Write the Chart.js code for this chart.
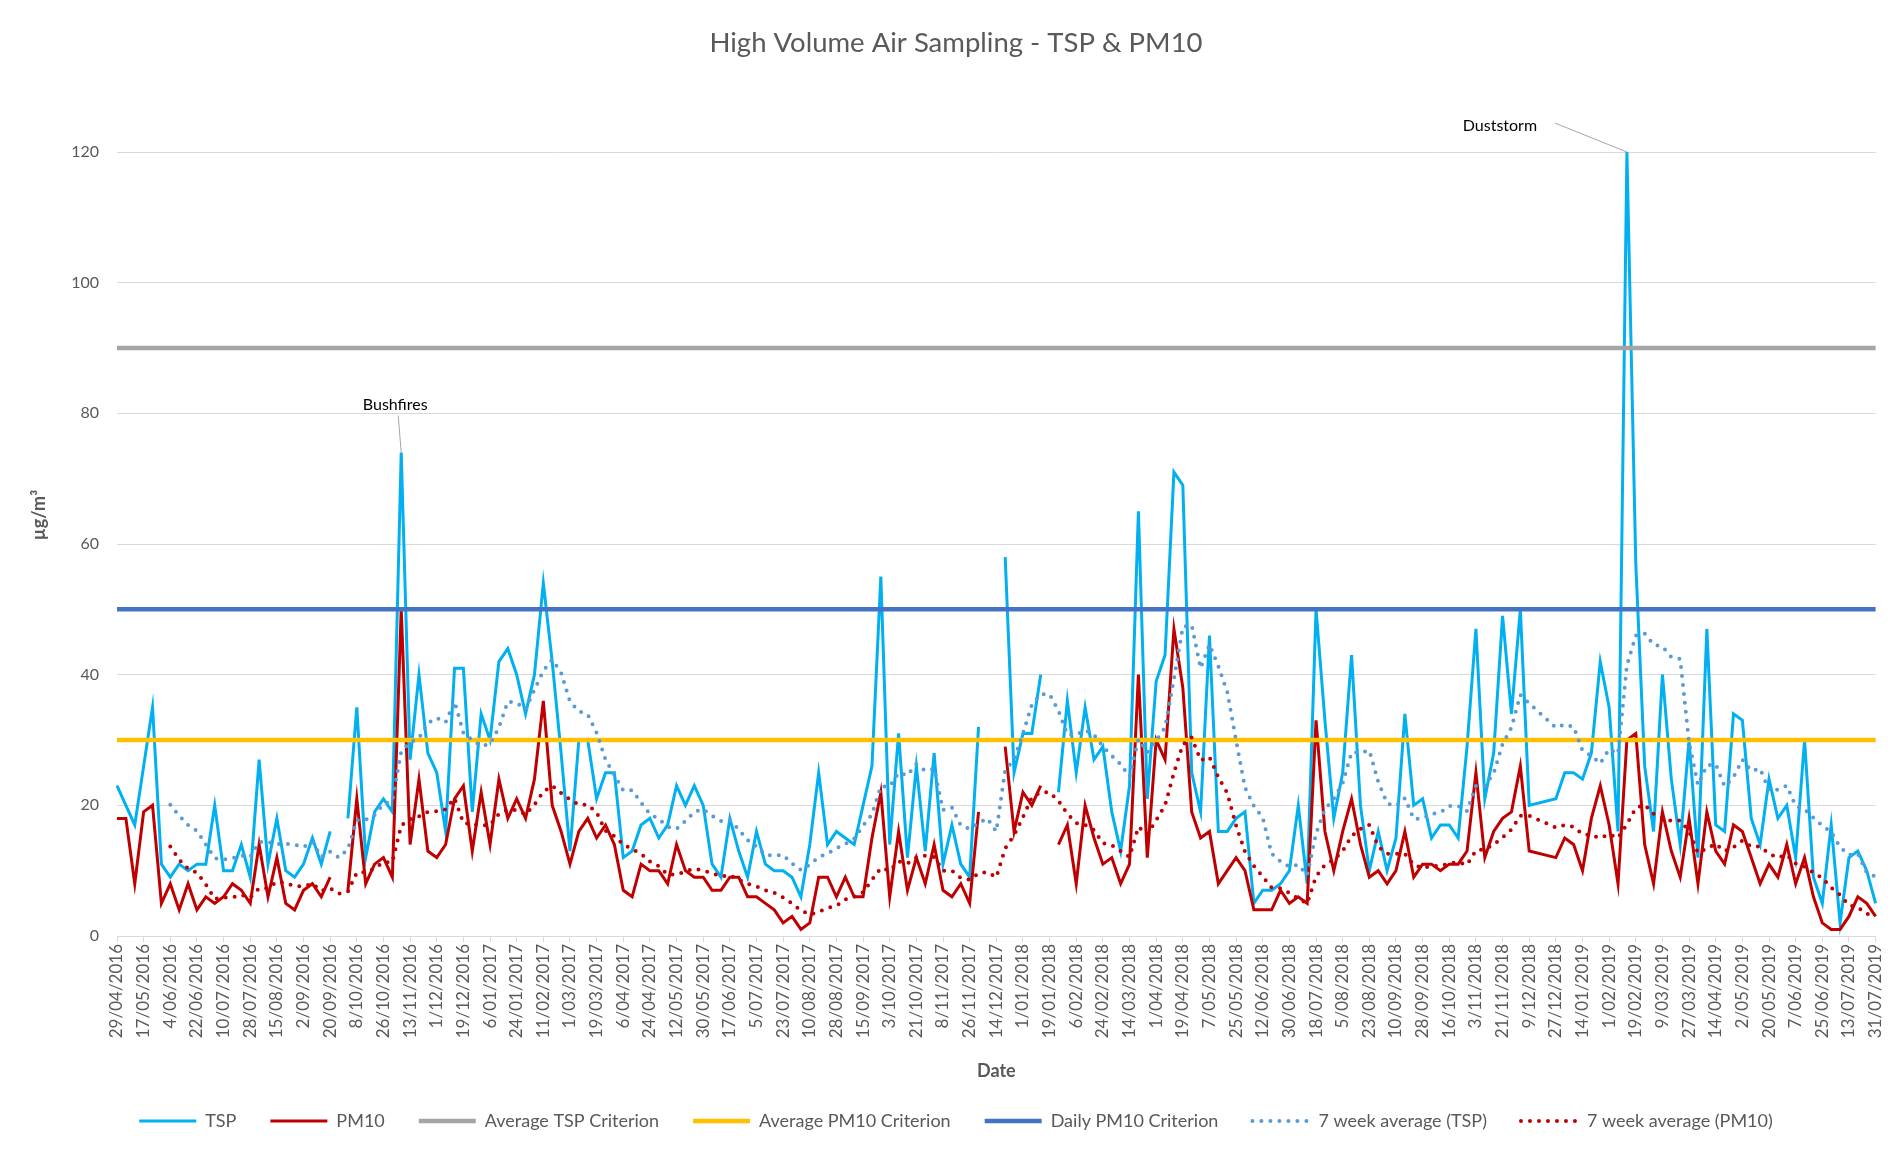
<!DOCTYPE html>
<html><head><meta charset="utf-8">
<script src="https://cdn.jsdelivr.net/npm/chart.js@4.4.1/dist/chart.umd.min.js"></script>
<style>html,body{margin:0;padding:0;background:#fff;}canvas{display:block;}</style>
</head><body>
<canvas id="c" width="1898" height="1151"></canvas>
<script>
// ---- categories (sampling dates, every 6 days) ----
const dates = [
'29/04/2016','5/05/2016','11/05/2016','17/05/2016','23/05/2016','29/05/2016','4/06/2016','10/06/2016','16/06/2016','22/06/2016',
'28/06/2016','4/07/2016','10/07/2016','16/07/2016','22/07/2016','28/07/2016','3/08/2016','9/08/2016','15/08/2016','21/08/2016',
'27/08/2016','2/09/2016','8/09/2016','14/09/2016','20/09/2016','26/09/2016','2/10/2016','8/10/2016','14/10/2016','20/10/2016',
'26/10/2016','1/11/2016','7/11/2016','13/11/2016','19/11/2016','25/11/2016','1/12/2016','7/12/2016','13/12/2016','19/12/2016',
'25/12/2016','31/12/2016','6/01/2017','12/01/2017','18/01/2017','24/01/2017','30/01/2017','5/02/2017','11/02/2017','17/02/2017',
'23/02/2017','1/03/2017','7/03/2017','13/03/2017','19/03/2017','25/03/2017','31/03/2017','6/04/2017','12/04/2017','18/04/2017',
'24/04/2017','30/04/2017','6/05/2017','12/05/2017','18/05/2017','24/05/2017','30/05/2017','5/06/2017','11/06/2017','17/06/2017',
'23/06/2017','29/06/2017','5/07/2017','11/07/2017','17/07/2017','23/07/2017','29/07/2017','4/08/2017','10/08/2017','16/08/2017',
'22/08/2017','28/08/2017','3/09/2017','9/09/2017','15/09/2017','21/09/2017','27/09/2017','3/10/2017','9/10/2017','15/10/2017',
'21/10/2017','27/10/2017','2/11/2017','8/11/2017','14/11/2017','20/11/2017','26/11/2017','2/12/2017','8/12/2017','14/12/2017',
'20/12/2017','26/12/2017','1/01/2018','7/01/2018','13/01/2018','19/01/2018','25/01/2018','31/01/2018','6/02/2018','12/02/2018',
'18/02/2018','24/02/2018','2/03/2018','8/03/2018','14/03/2018','20/03/2018','26/03/2018','1/04/2018','7/04/2018','13/04/2018',
'19/04/2018','25/04/2018','1/05/2018','7/05/2018','13/05/2018','19/05/2018','25/05/2018','31/05/2018','6/06/2018','12/06/2018',
'18/06/2018','24/06/2018','30/06/2018','6/07/2018','12/07/2018','18/07/2018','24/07/2018','30/07/2018','5/08/2018','11/08/2018',
'17/08/2018','23/08/2018','29/08/2018','4/09/2018','10/09/2018','16/09/2018','22/09/2018','28/09/2018','4/10/2018','10/10/2018',
'16/10/2018','22/10/2018','28/10/2018','3/11/2018','9/11/2018','15/11/2018','21/11/2018','27/11/2018','3/12/2018','9/12/2018',
'15/12/2018','21/12/2018','27/12/2018','2/01/2019','8/01/2019','14/01/2019','20/01/2019','26/01/2019','1/02/2019','7/02/2019',
'13/02/2019','19/02/2019','25/02/2019','3/03/2019','9/03/2019','15/03/2019','21/03/2019','27/03/2019','2/04/2019','8/04/2019',
'14/04/2019','20/04/2019','26/04/2019','2/05/2019','8/05/2019','14/05/2019','20/05/2019','26/05/2019','1/06/2019','7/06/2019',
'13/06/2019','19/06/2019','25/06/2019','1/07/2019','7/07/2019','13/07/2019','19/07/2019','25/07/2019','31/07/2019'];

// dates with no sample row at all (line runs straight across them)
const notSampled = ['15/12/2018','21/12/2018'];

// ---- series values (µg/m³), null = blank result ----
const tsp = [
23,20,17,26,35,11,9,11,10,11, 11,20,10,10,14,9,27,11,18,10,
9,11,15,11,16,null,18,35,12,19, 21,19,74,27,40,28,25,16,41,41,
19,34,30,42,44,40,34,40,54,42, 28,13,30,30,21,25,25,12,13,17,
18,15,17,23,20,23,20,11,9,18, 13,9,16,11,10,10,9,6,14,25,
14,16,15,14,20,26,55,14,31,12, 26,13,28,11,17,11,9,32,null,null,
58,25,31,31,40,null,22,36,25,35, 27,29,19,13,23,65,21,39,43,71,
69,25,19,46,16,16,18,19,5,7, 7,8,10,20,8,50,33,18,25,43,
20,10,16,10,15,34,20,21,15,17, 17,15,29,47,21,28,49,34,50,20,
null,null,21,25,25,24,28,42,35,16, 120,57,26,16,40,24,14,30,12,47,
17,16,34,33,18,14,24,18,20,12, 30,9,5,17,2,12,13,10,5];

const pm10 = [
18,18,8,19,20,5,8,4,8,4, 6,5,6,8,7,5,14,6,12,5,
4,7,8,6,9,null,7,21,8,11, 12,9,50,14,24,13,12,14,21,23,
13,22,14,24,18,21,18,24,36,20, 16,11,16,18,15,17,14,7,6,11,
10,10,8,14,10,9,9,7,7,9, 9,6,6,5,4,2,3,1,2,9,
9,6,9,6,6,15,22,6,16,7, 12,8,14,7,6,8,5,19,null,null,
29,16,22,20,23,null,14,17,8,20, 15,11,12,8,11,40,12,30,27,47,
38,19,15,16,8,10,12,10,4,4, 4,7,5,6,5,33,16,10,16,21,
14,9,10,8,10,16,9,11,11,10, 11,11,13,25,12,16,18,19,26,13,
null,null,12,15,14,10,18,23,17,8, 30,31,14,8,19,13,9,18,8,19,
13,11,17,16,12,8,11,9,14,8, 12,6,2,1,1,3,6,5,3];

// 7 week average trend lines
const tspAvg = [
null,null,null,null,null,null,20.1,18.4,17.0,16.1, 14.0,11.9,11.7,11.9,12.3,12.1,14.4,14.4,14.1,14.1,
14.0,13.6,14.4,12.1,12.9,12.0,13.3,17.7,17.8,18.5, 20.2,20.7,28.3,29.6,30.3,32.6,33.4,32.7,35.9,31.1,
30.0,29.1,29.4,31.9,35.9,35.7,34.7,37.7,40.6,42.3, 40.3,35.9,34.4,33.9,31.1,27.0,24.6,22.3,22.3,20.4,
18.7,17.9,16.7,16.4,17.6,19.0,19.4,18.4,17.6,17.7, 16.3,14.7,13.7,12.4,12.3,12.4,11.1,10.1,10.9,12.1,
12.6,13.4,14.1,14.9,16.9,18.6,22.9,22.9,25.0,24.6, 26.3,25.3,25.6,19.3,19.7,16.9,16.4,17.3,18.0,16.0,
25.4,27.0,31.0,35.4,37.0,37.0,34.5,30.8,30.8,31.5, 30.8,29.0,27.6,26.3,24.4,30.1,28.1,29.9,31.9,39.3,
47.3,47.6,41.0,44.6,41.3,37.4,29.9,22.7,19.9,18.1, 12.6,11.4,10.6,10.9,9.3,15.7,19.4,21.0,23.4,28.1,
28.1,28.4,23.6,20.3,19.9,21.1,17.9,18.0,18.7,18.9, 19.9,19.9,19.1,23.0,23.0,24.9,29.4,31.9,36.9,35.6,
null,null,31.9,32.4,32.0,28.4,27.6,26.4,28.6,27.9, 41.4,46.0,46.3,44.6,44.3,42.7,42.4,29.6,23.1,26.1,
26.3,22.9,24.3,27.0,25.3,25.6,22.3,22.4,23.0,19.9, 19.4,18.1,16.9,15.9,13.6,12.4,12.6,9.7,9.1];

const pm10Avg = [
null,null,null,null,null,null,13.7,11.7,10.3,9.7, 7.9,5.7,5.9,5.9,6.3,5.9,7.3,7.3,8.3,8.1,
7.6,7.6,8.0,6.9,7.3,6.5,6.8,9.7,9.8,10.3, 11.3,11.3,16.9,17.9,18.3,19.0,19.1,19.4,21.1,17.3,
17.1,16.9,17.0,18.7,19.3,19.3,18.6,20.1,22.1,23.0, 21.9,20.9,20.1,20.1,18.9,16.1,15.3,14.0,13.3,12.6,
11.4,10.7,9.4,9.4,9.9,10.3,10.0,9.6,9.1,9.3, 8.6,8.0,7.6,7.0,6.6,5.9,5.0,3.9,3.3,3.7,
4.3,4.6,5.6,6.0,6.7,8.6,10.4,10.0,11.4,11.1, 12.0,12.3,12.1,10.0,10.0,8.9,8.6,9.6,9.8,9.0,
13.4,15.4,18.2,21.2,22.0,22.0,20.7,18.7,17.3,17.0, 16.2,14.2,13.9,13.0,12.1,16.7,15.6,17.7,20.0,25.0,
29.3,30.4,26.9,27.4,24.3,21.9,16.9,12.9,10.7,9.1, 7.4,7.3,6.6,5.7,5.0,9.1,10.9,11.7,13.0,15.3,
16.4,17.0,13.7,12.6,12.6,12.6,10.9,10.4,10.7,10.7, 11.1,11.3,10.9,13.1,13.3,14.0,15.1,16.3,18.4,18.4,
null,null,16.6,17.0,16.7,15.6,15.4,15.0,15.6,15.0, 17.1,19.6,20.1,18.7,18.1,17.6,17.7,16.0,12.7,13.4,
14.1,13.0,13.6,14.6,13.7,13.7,12.6,12.0,12.4,11.1, 10.6,9.7,8.9,7.4,6.3,4.7,4.4,3.4,3.0];

// criteria (constant levels)
const avgTspCriterion = 90;
const avgPm10Criterion = 30;
const dailyPm10Criterion = 50;

// y axis ticks
const yMin = 0, yMax = 120, yStep = 20;
// every n-th date gets a tick label
const labelEvery = 3;

// annotated events on the TSP series
const events = [
  {date:'7/11/2016', text:'Bushfires'},
  {date:'13/02/2019', text:'Duststorm'}
];

// ---------------- build ----------------
const FONT = 'Lato, "Open Sans", "Liberation Sans", sans-serif';
const GREY = '#595959';

function toPoints(arr){
  return dates.map((d,i)=>({x:d, y:arr[i]})).filter(p=>!notSampled.includes(p.x));
}
function levelLine(v){
  return [{x:dates[0], y:v},{x:dates[dates.length-1], y:v}];
}

const eventStyle = {
  'Bushfires': {dx:-6, dy:-48, lx:-3, ly:-37},
  'Duststorm': {dx:-127, dy:-26, lx:-72, ly:-29}
};

const annotPlugin = {
  id:'annot',
  afterDatasetsDraw(chart){
    const {ctx, scales:{x, y}, chartArea} = chart;
    events.forEach(ev=>{
      const i = dates.indexOf(ev.date);
      const px = x.getPixelForValue(i);
      const py = y.getPixelForValue(tsp[i]);
      const s = eventStyle[ev.text];
      ctx.save();
      ctx.strokeStyle = '#A5A5A5';
      ctx.lineWidth = 1;
      ctx.beginPath();
      ctx.moveTo(px + s.lx, py + s.ly);
      ctx.lineTo(px, py);
      ctx.stroke();
      ctx.fillStyle = '#000000';
      ctx.font = '16px ' + FONT;
      ctx.textAlign = 'center';
      ctx.textBaseline = 'middle';
      ctx.fillText(ev.text, px + s.dx, py + s.dy);
      ctx.restore();
    });
    // y axis title
    ctx.save();
    ctx.translate(39, (chartArea.top + chartArea.bottom) / 2 - 29);
    ctx.rotate(-Math.PI / 2);
    ctx.fillStyle = GREY;
    ctx.font = 'bold 18px ' + FONT;
    ctx.textAlign = 'center';
    ctx.textBaseline = 'middle';
    ctx.fillText('µg/m³', 0, 0);
    ctx.restore();
  }
};

const common = {pointRadius:0, pointHoverRadius:0, tension:0, fill:false, spanGaps:false};

new Chart(document.getElementById('c').getContext('2d'), {
  type:'line',
  data:{
    labels:dates,
    datasets:[
      Object.assign({label:'TSP', data:toPoints(tsp), borderColor:'#00B0F0', backgroundColor:'#00B0F0', borderWidth:3, order:6}, common),
      Object.assign({label:'PM10', data:toPoints(pm10), borderColor:'#C00000', backgroundColor:'#C00000', borderWidth:3, order:5}, common),
      Object.assign({label:'Average TSP Criterion', data:levelLine(avgTspCriterion), borderColor:'#A5A5A5', backgroundColor:'#A5A5A5', borderWidth:4.5, order:4}, common),
      Object.assign({label:'Average PM10 Criterion', data:levelLine(avgPm10Criterion), borderColor:'#FFC000', backgroundColor:'#FFC000', borderWidth:4.5, order:3}, common),
      Object.assign({label:'Daily PM10 Criterion', data:levelLine(dailyPm10Criterion), borderColor:'#4472C4', backgroundColor:'#4472C4', borderWidth:4.5, order:3}, common),
      Object.assign({label:'7 week average (TSP)', data:toPoints(tspAvg), borderColor:'#5B9BD5', backgroundColor:'#5B9BD5', borderWidth:4, borderDash:[0,9], borderCapStyle:'round', order:1}, common),
      Object.assign({label:'7 week average (PM10)', data:toPoints(pm10Avg), borderColor:'#C00000', backgroundColor:'#C00000', borderWidth:4, borderDash:[0,9], borderCapStyle:'round', order:1}, common)
    ]
  },
  options:{
    responsive:false,
    animation:false,
    events:[],
    layout:{padding:{left:34, right:20, top:0, bottom:11}},
    plugins:{
      title:{display:true, text:'High Volume Air Sampling - TSP & PM10', color:GREY,
             font:{family:FONT, size:27.5, weight:'normal'}, padding:{top:27, bottom:92}},
      legend:{position:'bottom',
        labels:{usePointStyle:true, pointStyle:'line', pointStyleWidth:57, padding:34, color:GREY,
                font:{family:FONT, size:18},
                generateLabels:(chart)=>chart.data.datasets.map((ds,i)=>({
                  text:ds.label, fillStyle:ds.borderColor, strokeStyle:ds.borderColor,
                  lineWidth:ds.borderWidth, lineDash:ds.borderDash || [], lineCap:ds.borderCapStyle || 'butt',
                  pointStyle:'line', hidden:false, datasetIndex:i, fontColor:GREY}))}},
      tooltip:{enabled:false}
    },
    scales:{
      x:{
        type:'category', offset:false,
        grid:{display:true, drawOnChartArea:false, drawTicks:true, tickLength:6, color:'#D9D9D9', lineWidth:1},
        border:{display:true, color:'#D9D9D9', width:1},
        ticks:{autoSkip:false, maxRotation:90, minRotation:90, padding:2, color:GREY,
               font:{family:FONT, size:17},
               callback:function(v,i){ return i % labelEvery === 0 ? this.getLabelForValue(v) : null; }},
        title:{display:true, text:'Date', color:GREY, font:{family:FONT, size:18, weight:'bold'}, padding:{top:0, bottom:-4}},
        afterFit:(s)=>{ s.height = 142; }
      },
      y:{
        min:yMin, max:yMax,
        ticks:{stepSize:yStep, padding:18, color:GREY, font:{family:FONT, size:16}},
        grid:{color:'#D9D9D9', lineWidth:1, drawTicks:false},
        border:{display:false},
        afterFit:(s)=>{ s.width = 83; }
      }
    }
  },
  plugins:[annotPlugin]
});
</script>
</body></html>
